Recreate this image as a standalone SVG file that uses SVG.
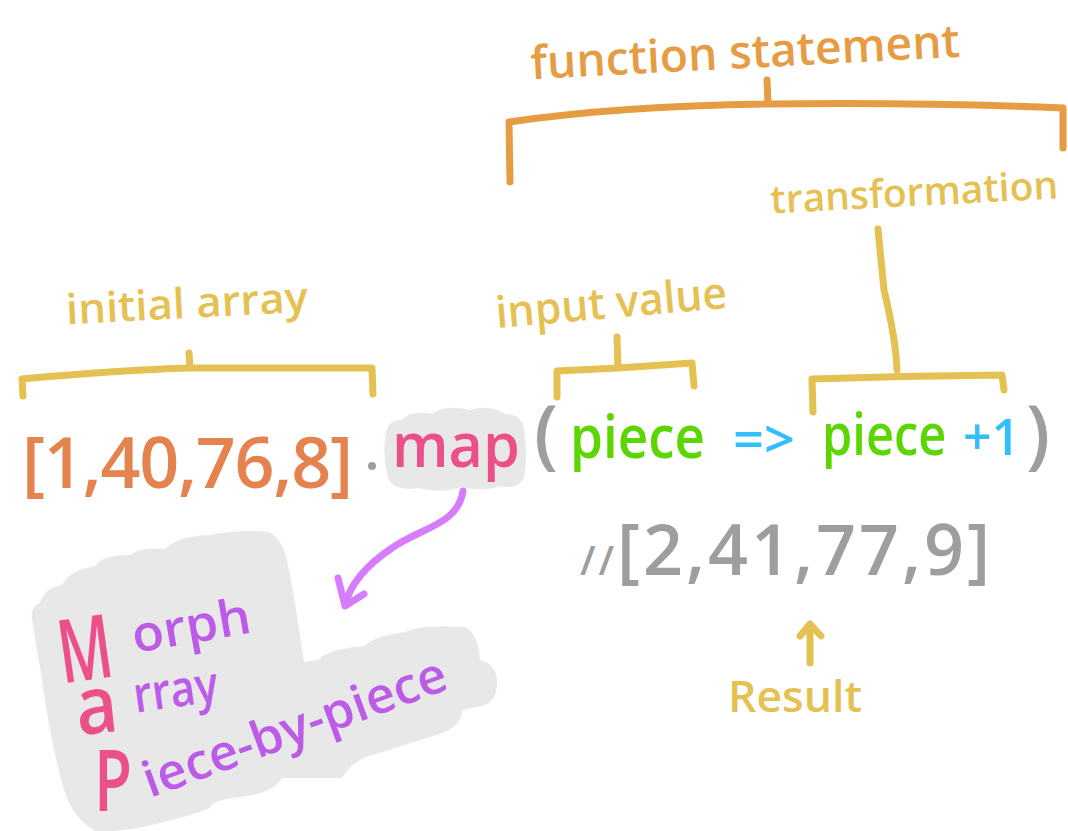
<svg xmlns="http://www.w3.org/2000/svg" width="1068" height="831" viewBox="0 0 1068 831">
<style>
.t{font-family:"Open Sans","Liberation Sans",sans-serif;font-weight:600}
.br{fill:none;stroke-width:7;stroke-linecap:round;stroke-linejoin:round}
.orange{fill:#E5834F}.fs{fill:#E69C42}.yel{fill:#E4C152}.pink{fill:#EC5089}
.green{fill:#5BD600}.blue{fill:#33BEFF}.gray{fill:#9E9E9E}.purp{fill:#BB5BE8}
</style>
<rect width="1068" height="831" fill="#FFFFFF"/>
<g id="blobs">
<path id="map-blob" fill="#E8E8E8" d="M386,432 Q388,420 402,420 Q410,410 432,414 Q445,404 470,410 Q490,404 505,414 Q522,414 524,430 Q528,455 524,478 Q518,490 500,486 Q485,492 462,487 Q440,494 418,488 Q395,492 388,478 Q382,455 386,432 Z"/>
<path id="mnemonic-blob" fill="#E8E8E8" d="M32,620 Q30,606 40,603 Q44,588 62,585 Q70,570 95,566 Q102,555 130,555 Q140,547 165,549 Q180,535 210,535 Q240,529 268,532 Q282,538 287,560 Q296,605 304,662 L318,660 Q330,648 365,646 Q374,636 405,632 Q422,624 465,627 Q478,633 480,660 Q496,664 497,680 Q498,702 482,706 L462,710 Q462,728 436,735 Q402,746 366,757 Q350,764 342,778 L282,778 Q272,794 240,797 Q212,800 210,808 Q190,816 160,823 Q120,833 95,831 Q74,820 64,790 Q50,740 42,680 Z"/>
</g>
<g id="connectors">
<path class="br" stroke="#E69C42" d="M510,182 L509,122 Q620,106 768,104 Q920,102 1063,108 L1063,148 M767,80 L768,104"/>
<path class="br" stroke="#E4C152" d="M23,396 L22,379 Q120,370 190,368 L372,368 L373,394 M189,353 L190,368"/>
<path class="br" stroke="#E4C152" d="M557,397 L557,371 L618,368 L692,363 L694,386 M617,337 L618,368"/>
<path class="br" stroke="#E4C152" d="M878,229 L884,290 Q896,340 897,370 M813,412 L812,379 Q900,376 1002,375 L1004,390"/>
<path class="br" stroke="#D77BFF" d="M463,491 C458,525 420,528 392,548 C365,566 350,585 345,605 M338,578 L345,606 L364,594"/>
<path class="br" stroke="#E4C152" d="M810,663 L810,626 M800,636 L810,624 L821,636"/>
</g>
<g id="function-statement"><text class="t fs" x="530" y="68" font-size="46" textLength="430" lengthAdjust="spacingAndGlyphs" transform="rotate(-3 745 52)">function statement</text></g>
<g id="transformation"><text class="t yel" x="770" y="206" font-size="39" textLength="288" lengthAdjust="spacing" transform="rotate(-3 913 190)">transformation</text></g>
<g id="initial-array"><text class="t yel" x="66" y="318" font-size="42" textLength="242" lengthAdjust="spacingAndGlyphs" transform="rotate(-3 187 305)">initial array</text></g>
<g id="input-value"><text class="t yel" x="495" y="318" font-size="44" textLength="232" lengthAdjust="spacingAndGlyphs" transform="rotate(-5 611 300)">input value</text></g>
<g id="array"><text class="t orange" x="22" y="488" font-size="70" textLength="331" lengthAdjust="spacing">[1,40,76,8]</text></g>
<g id="dot"><circle cx="372" cy="466" r="4" fill="#9E9E9E"/></g>
<g id="map"><text class="t pink" x="392" y="467" font-size="62" textLength="128" lengthAdjust="spacingAndGlyphs">map</text></g>
<g id="callback">
<text class="t gray" x="534" y="460" font-size="76">(</text>
<text class="t green" x="570" y="458" font-size="60" textLength="135" lengthAdjust="spacingAndGlyphs">piece</text>
<text class="t blue" x="733" y="458" font-size="52" textLength="62" lengthAdjust="spacingAndGlyphs">=&gt;</text>
<text class="t green" x="0" y="0" font-size="58" transform="translate(822,455) scale(0.84,1)">piece</text>
<text class="t blue" x="963" y="455" font-size="50">+1</text>
<text class="t gray" x="1026" y="460" font-size="76">)</text>
</g>
<g id="result-array"><text class="t gray" x="580" y="575" font-size="70" textLength="410" lengthAdjust="spacing"><tspan font-size="40">//</tspan>[2,41,77,9]</text></g>
<g id="result-label"><text class="t yel" x="728" y="712" font-size="44" textLength="134" lengthAdjust="spacingAndGlyphs">Result</text></g>
<g id="mnemonic">
<text class="t pink" x="58" y="680" font-size="88" textLength="54" lengthAdjust="spacingAndGlyphs" transform="rotate(-8 85 650)">M</text>
<text class="t purp" x="130" y="643" font-size="50" textLength="120" lengthAdjust="spacingAndGlyphs" transform="rotate(-10 190 620)">orph</text>
<text class="t pink" x="76" y="733" font-size="80" textLength="42" lengthAdjust="spacingAndGlyphs" transform="rotate(-6 98 712)">a</text>
<text class="t purp" x="133" y="707" font-size="50" textLength="85" lengthAdjust="spacingAndGlyphs" transform="rotate(-8 175 690)">rray</text>
<text class="t pink" x="0" y="0" font-size="86" transform="translate(94,811) scale(0.72,1)">P</text>
<text class="t purp" x="150" y="798" font-size="50" textLength="320" lengthAdjust="spacingAndGlyphs" transform="rotate(-20 150 798)">iece-by-piece</text>
</g>
</svg>
